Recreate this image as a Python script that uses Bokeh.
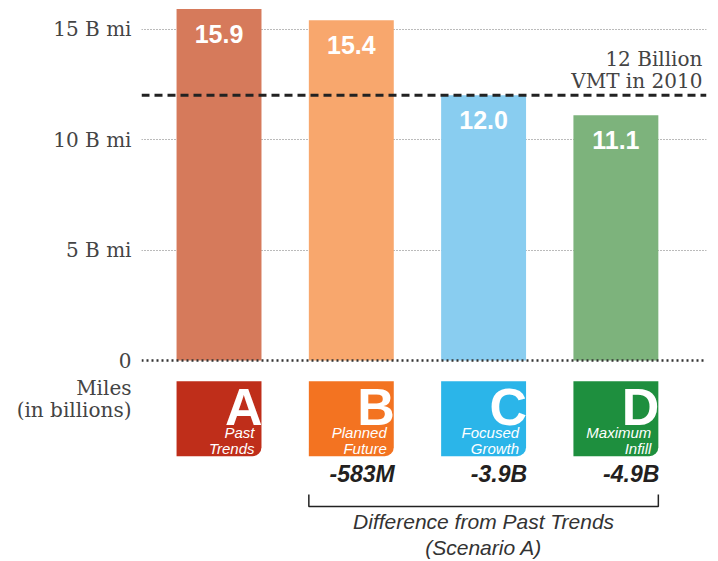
from bokeh.plotting import figure
from bokeh.models import FixedTicker, Span, Range1d
from bokeh.core.properties import value
from bokeh.embed import file_html
from bokeh.resources import INLINE

# ---------------- data ----------------
scenarios = ["A", "B", "C", "D"]
sub_line1 = ["Past", "Planned", "Focused", "Maximum"]
sub_line2 = ["Trends", "Future", "Growth", "Infill"]
vmt = [15.9, 15.4, 12.0, 11.1]                 # billions of miles
vmt_labels = ["15.9", "15.4", "12.0", "11.1"]
diff_labels = ["", "-583M", "-3.9B", "-4.9B"]
vmt_2010 = 12.0
y_ticks = [0, 5, 10, 15]
y_tick_labels = ["0", "5 B mi", "10 B mi", "15 B mi"]
bar_colors = ["#D67A5B", "#F8A76D", "#89CDF0", "#7DB37C"]
box_colors = ["#BF2E1A", "#F37321", "#2BB5E9", "#1E8F3E"]

# ---------------- layout helpers ----------------
PX = 22.1            # pixels per billion
ZERO_Y = 360         # canvas y of zero line
def py(Y):
    return round((ZERO_Y - Y) / PX, 3)

xs = list(range(len(scenarios)))
BW = 0.642
serif = "DejaVu Serif"
sans = "Liberation Sans"
H = 561

p = figure(width=710, height=H,
           x_range=Range1d(-0.586, 3.685), y_range=Range1d(py(H), py(0)),
           x_axis_location=None, toolbar_location=None, output_backend="svg",
           min_border_left=141, min_border_right=4, min_border_top=0, min_border_bottom=0,
           outline_line_color=None)

# y axis with extra label ticks for the unit caption
t_miles, t_bill = py(387), py(410)
p.yaxis.ticker = FixedTicker(ticks=y_ticks + [t_miles, t_bill])
overrides = {t: l for t, l in zip(y_ticks, y_tick_labels)}
overrides[t_miles] = "Miles"
overrides[t_bill] = "(in billions)"
p.yaxis.major_label_overrides = overrides
p.yaxis.axis_line_color = None
p.yaxis.major_tick_line_color = None
p.yaxis.minor_tick_line_color = None
p.yaxis.major_label_standoff = 4
p.yaxis.major_label_text_font = serif
p.yaxis.major_label_text_font_size = "20px"
p.yaxis.major_label_text_color = "#444444"

p.ygrid.ticker = FixedTicker(ticks=[t for t in y_ticks if t > 0])
p.ygrid.grid_line_color = "#777777"
p.ygrid.grid_line_dash = "1 2"
p.ygrid.grid_line_width = 1
p.xgrid.grid_line_color = None

# bars
p.vbar(x=xs, top=vmt, bottom=0, width=BW, fill_color=bar_colors, line_color=None)

# value labels inside bars
p.text(x=xs, y=vmt, text=vmt_labels, text_align="center", text_baseline="top",
       y_offset=16, text_color="white", text_font=value(sans),
       text_font_style="bold", text_font_size="25px")

# zero line and 2010 reference line
p.add_layout(Span(location=0, dimension="width", line_color="#333333",
                  line_width=2.5, line_dash="2 3"))
p.add_layout(Span(location=vmt_2010, dimension="width", line_color="#222222",
                  line_width=3, line_dash="8 5"))
p.text(x=[3.654, 3.654], y=[vmt_2010, vmt_2010], text=["12 Billion", "VMT in 2010"],
       y_offset=[-48, -26], text_align="right", text_baseline="top",
       text_color="#444444", text_font=value(serif), text_font_size="20px")

# scenario boxes
rights = [x + BW / 2 for x in xs]
p.vbar(x=xs, top=py(380.7), bottom=py(455.7), width=BW, fill_color=box_colors,
       line_color=None, border_radius=(0, 0, 9, 0))
p.text(x=rights, y=[py(378)] * 4, text=scenarios, text_align="right",
       text_baseline="top", text_color="white", text_font=value(sans),
       text_font_style="bold", text_font_size="52px", x_offset=1)
p.text(x=rights, y=[py(423)] * 4, text=sub_line1, text_align="right",
       text_baseline="top", text_color="white", text_font=value(sans),
       text_font_style="italic", text_font_size="15px", x_offset=-7)
p.text(x=rights, y=[py(439)] * 4, text=sub_line2, text_align="right",
       text_baseline="top", text_color="white", text_font=value(sans),
       text_font_style="italic", text_font_size="15px", x_offset=-7)

# differences
p.text(x=rights, y=[py(461)] * 4, text=diff_labels, text_align="right",
       text_baseline="top", text_color="#231f20", text_font=value(sans),
       text_font_style="bold italic", text_font_size="23px", x_offset=1)

# bracket
bl = xs[1] - BW / 2
br = xs[3] + BW / 2
p.line(x=[bl, bl, br, br], y=[py(494), py(506), py(506), py(494)],
       line_color="#222222", line_width=1.5)
mid = (bl + br) / 2
p.text(x=[mid, mid], y=[py(510), py(535)],
       text=["Difference from Past Trends", "(Scenario A)"],
       text_align="center", text_baseline="top", text_color="#333333",
       text_font=value(sans), text_font_style="italic", text_font_size="21px")

open("out.html", "w").write(file_html(p, INLINE))
